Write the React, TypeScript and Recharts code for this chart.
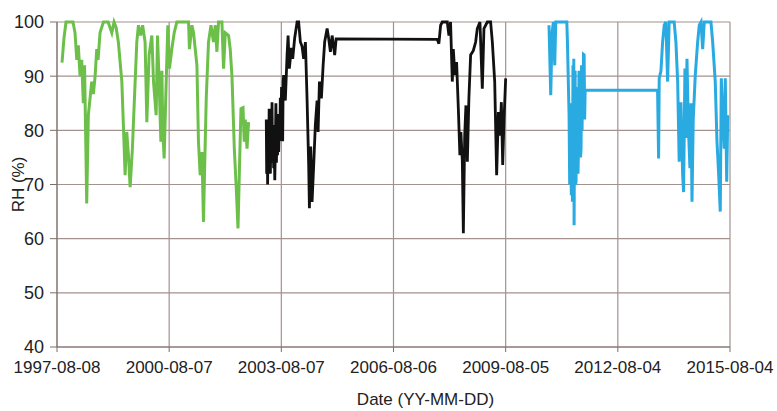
import React from "react";
import { LineChart, Line, XAxis, YAxis, CartesianGrid } from "recharts";

// Days since 1997-08-08
const START_UTC = Date.UTC(1997, 7, 8);
const xTicks = [0, 1095, 2190, 3285, 4380, 5475, 6570];
const yTicks = [40, 50, 60, 70, 80, 90, 100];

const greenDays = [49, 68, 88, 127, 156, 176, 193, 208, 225, 241, 257, 269, 279, 290, 306, 323, 339, 355, 372, 388, 401, 420, 453, 499, 535, 557, 577, 599, 633, 648, 665, 681, 697, 714, 736, 756, 779, 795, 816, 836, 860, 877, 899, 926, 942, 968, 981, 997, 1014, 1024, 1033, 1046, 1066, 1082, 1098, 1121, 1144, 1170, 1232, 1284, 1293, 1317, 1333, 1366, 1381, 1398, 1415, 1430, 1440, 1457, 1479, 1503, 1528, 1545, 1561, 1577, 1610, 1626, 1643, 1675, 1691, 1708, 1731, 1750, 1767, 1782, 1796, 1816, 1828, 1838, 1855, 1870];
const greenRH = [92.5, 97, 100, 100, 100, 98, 93, 95.7, 90, 93, 85, 92, 80, 66.5, 82.8, 86, 89, 86.7, 90, 95, 93, 98, 100, 100, 98, 100, 99, 96.3, 89, 81, 71.7, 79.7, 75.5, 69.5, 76.6, 85.9, 96.3, 99.4, 97.5, 99.4, 96.3, 81.5, 93.9, 97.5, 89, 82.8, 97.5, 89, 77.9, 91, 80, 74.8, 89, 99.4, 91.4, 95, 98, 100, 100, 100, 95, 99.4, 98, 92, 77.9, 71.7, 76, 63.1, 72, 85.9, 96.3, 99.4, 96.3, 99.4, 94.5, 100, 100, 91.4, 98, 97.5, 95, 90, 76.6, 69.3, 61.9, 73.6, 84, 84.2, 77.9, 82, 76.6, 81.5];

const blackDays = [2043, 2047, 2052, 2056, 2061, 2066, 2071, 2076, 2083, 2089, 2094, 2099, 2104, 2110, 2115, 2121, 2126, 2131, 2137, 2142, 2148, 2153, 2159, 2164, 2170, 2175, 2180, 2186, 2192, 2197, 2203, 2208, 2213, 2229, 2246, 2256, 2268, 2288, 2301, 2320, 2344, 2359, 2376, 2392, 2408, 2425, 2441, 2457, 2464, 2477, 2490, 2506, 2522, 2539, 2549, 2562, 2581, 2598, 2613, 2637, 2652, 2669, 2686, 2711, 2725, 3712, 3728, 3745, 3761, 3810, 3826, 3842, 3859, 3869, 3884, 3901, 3918, 3933, 3943, 3957, 3967, 3980, 3992, 4006, 4021, 4038, 4064, 4087, 4103, 4129, 4152, 4168, 4201, 4233, 4250, 4273, 4292, 4309, 4324, 4338, 4351, 4364, 4380];
const blackRH = [82, 72, 81, 70, 78, 73, 84, 75, 72, 80, 74, 85.2, 76, 81, 73, 78, 70.8, 76, 85, 74, 80, 75.4, 83, 76, 81, 78, 86, 80, 88, 83, 78, 89, 90.2, 85.5, 93.9, 97.5, 91.4, 95.2, 93.2, 97, 100, 100, 96.3, 95.5, 93.2, 96.3, 85.9, 73.6, 65.6, 77, 66.8, 73.6, 81, 85.5, 79.7, 89, 85.9, 92, 96.3, 98.8, 97, 94.5, 97.5, 93.9, 96.9, 96.8, 96, 99.4, 100, 100, 97.5, 100, 89, 95, 90.2, 92.6, 84, 75.4, 79.7, 74.2, 61, 79, 84.6, 74.2, 85.9, 93.9, 94.7, 96.3, 98.8, 100, 87.7, 98.8, 100, 100, 96.3, 89, 71.7, 83.4, 79, 85.2, 73.6, 82, 89.6];

const blueDays = [4803, 4820, 4833, 4846, 4859, 4869, 4901, 4937, 4977, 4983, 4999, 5005, 5010, 5016, 5021, 5026, 5032, 5037, 5042, 5045, 5048, 5053, 5058, 5062, 5067, 5072, 5076, 5081, 5086, 5091, 5096, 5102, 5107, 5111, 5116, 5121, 5126, 5130, 5135, 5140, 5146, 5151, 5156, 5863, 5873, 5879, 5896, 5912, 5928, 5944, 5961, 5976, 6025, 6042, 6059, 6074, 6091, 6108, 6117, 6130, 6140, 6150, 6163, 6179, 6189, 6199, 6211, 6231, 6254, 6270, 6287, 6303, 6319, 6384, 6401, 6426, 6443, 6459, 6475, 6485, 6499, 6514, 6524, 6538, 6548];
const blueRH = [99.4, 86.5, 98, 100, 92, 100, 100, 100, 100, 96.3, 82.8, 70, 85, 75.4, 68, 80, 66.8, 92, 72, 93.2, 62.5, 85, 91, 70, 70.5, 88, 74, 86, 72, 76.6, 91, 78, 90.2, 75, 76.6, 92, 80, 89, 84, 94, 93.9, 82, 87.4, 87.4, 74.8, 89.6, 91, 96.3, 99.4, 100, 89, 100, 100, 96.3, 89, 74.2, 85.2, 71.7, 68.6, 91.4, 78.6, 93.2, 81, 73, 85, 66.8, 82, 90.2, 96.3, 99.4, 100, 95, 100, 100, 96.3, 89, 77.9, 72, 65, 89.6, 83, 76.6, 89.6, 70.5, 82.8];

const toRows = (days: number[], vals: number[]) => days.map((d, i) => ({ d, rh: vals[i] }));
const greenData = toRows(greenDays, greenRH);
const blackData = toRows(blackDays, blackRH);
const blueData = toRows(blueDays, blueRH);

const fmtDate = (d: number) => new Date(START_UTC + d * 86400000).toISOString().slice(0, 10);

const FONT = "'Liberation Sans', Arial, sans-serif";
const GRID = "#a3928d";
const AXIS = "#7a6e6a";

export default function App() {
  return (
    <div style={{ position: "absolute", left: 8, top: 8, width: 769, height: 403 }}>
      <LineChart
        width={769}
        height={403}
        margin={{ top: 14, right: 47, bottom: 0, left: 0 }}
        style={{ fontFamily: FONT }}
      >
        <CartesianGrid stroke={GRID} strokeWidth={1.2} />
        <XAxis
          type="number"
          dataKey="d"
          domain={[0, 6570]}
          ticks={xTicks}
          tickFormatter={fmtDate}
          interval={0}
          height={64}
          stroke={AXIS}
          tickSize={5}
          tickMargin={9}
          tick={{ fill: "#222", fontSize: 17, fontFamily: FONT }}
          label={{ value: "Date (YY-MM-DD)", position: "insideBottom", offset: 6, dx: 32, fill: "#222", fontSize: 17, fontFamily: FONT }}
        />
        <YAxis
          type="number"
          domain={[40, 100]}
          ticks={yTicks}
          interval={0}
          width={49}
          stroke={AXIS}
          tickSize={7}
          tickMargin={6}
          tick={{ fill: "#222", fontSize: 18, fontFamily: FONT }}
          label={{ value: "RH (%)", angle: -90, position: "insideLeft", offset: 10, fill: "#222", fontSize: 17, fontFamily: FONT, style: { textAnchor: "middle" } }}
        />
        <Line data={greenData} dataKey="rh" type="linear" stroke="#6cc04a" strokeWidth={3} dot={false} isAnimationActive={false} />
        <Line data={blackData} dataKey="rh" type="linear" stroke="#111111" strokeWidth={2.8} dot={false} isAnimationActive={false} />
        <Line data={blueData} dataKey="rh" type="linear" stroke="#29abe2" strokeWidth={3} dot={false} isAnimationActive={false} />
      </LineChart>
    </div>
  );
}
